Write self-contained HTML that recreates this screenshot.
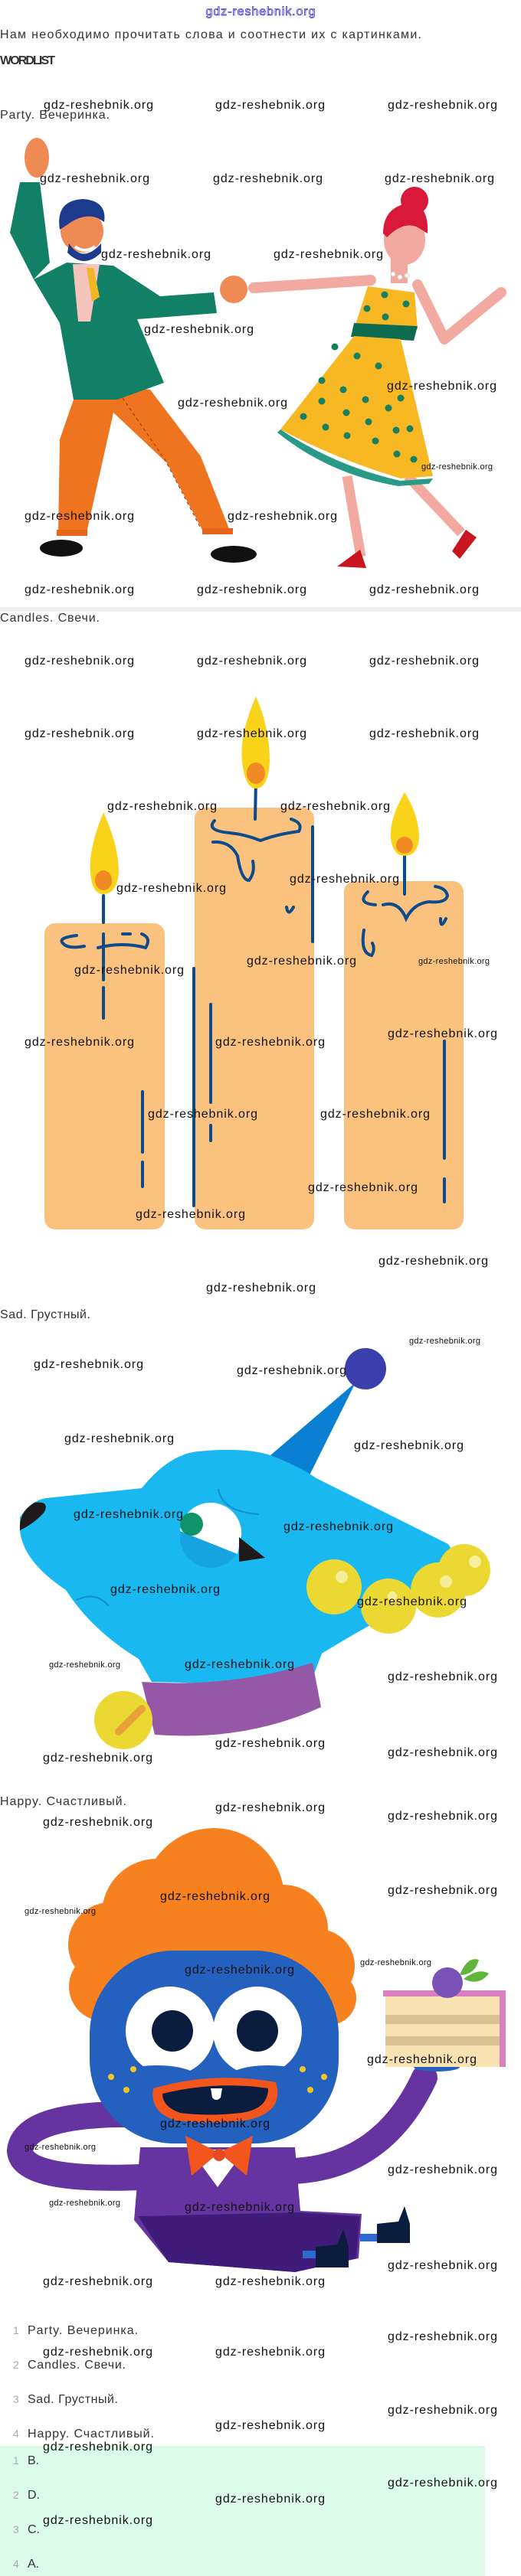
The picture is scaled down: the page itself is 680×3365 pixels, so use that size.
<!DOCTYPE html>
<html><head><meta charset="utf-8"><style>
html,body{margin:0;padding:0;background:#fff;}
svg{display:block}
.w{font-family:"Liberation Sans",sans-serif;font-size:16px;fill:#111;}
.ws{font-family:"Liberation Sans",sans-serif;font-size:11px;fill:#111;}
.t{font-family:"Liberation Sans","Noto Sans CJK SC",sans-serif;font-size:16px;fill:#333;}
.n{font-family:"Liberation Sans",sans-serif;font-size:14px;fill:#aaa;}
</style></head><body>
<svg width="680" height="3365" viewBox="0 0 680 3365" xmlns="http://www.w3.org/2000/svg">
<rect width="680" height="3365" fill="#fff"/>
<!-- header -->
<text x="340" y="20" text-anchor="middle" font-family="Liberation Sans,sans-serif" font-size="16" fill="#fff" stroke="#3a3acc" stroke-width="0.8" textLength="143">gdz-reshebnik.org</text>
<text class="t" x="0" y="50" textLength="550">Нам необходимо прочитать слова и соотнести их с картинками.</text>
<text x="0" y="84" font-family="Liberation Sans,sans-serif" font-weight="bold" font-size="16" fill="#333" textLength="72">WORDLIST</text>
<text class="t" x="0" y="155" textLength="143">Party. Вечеринка.</text>

<!-- PARTY -->
<g>
<!-- man pants -->
<polygon points="96,522 153,504 196,509 262,596 301,696 266,696 218,605 148,539 113,696 76,696 78,574" fill="#ef7420"/>
<rect x="74" y="692" width="40" height="8" fill="#e8641a"/><rect x="264" y="690" width="40" height="8" fill="#e8641a"/>
<path d="M160,520 L215,600 L262,690" stroke="#8a3d10" stroke-dasharray="4 4" fill="none"/>
<ellipse cx="80" cy="716" rx="28" ry="11" fill="#111"/><ellipse cx="305" cy="724" rx="30" ry="11" fill="#111"/>
<!-- man jacket -->
<polygon points="26,238 52,238 65,343 44,365 13,304" fill="#128066"/>
<ellipse cx="48" cy="206" rx="16" ry="26" fill="#ef8a55"/>
<polygon points="44,365 87,343 148,347 209,387 279,382 283,409 179,417 214,500 153,522 96,522 78,422" fill="#128066"/>
<polygon points="95,345 130,345 118,420 102,420" fill="#f4c4bd"/>
<polygon points="113,350 122,350 130,388 120,394" fill="#f1b526"/>
<circle cx="305" cy="378" r="18" fill="#ef8a55"/>
<circle cx="107" cy="302" r="28" fill="#ef8a55"/>
<path d="M78,300 Q72,262 108,260 Q140,262 136,290 L128,285 Q110,278 90,292 Z" fill="#1d3b8c"/>
<path d="M90,318 Q108,345 132,318 L132,330 Q110,352 88,330 Z" fill="#1d3b8c"/>
<path d="M98,322 Q110,332 124,322" stroke="#fff" stroke-width="4" fill="none"/>
<!-- woman -->
<path d="M331,376 L484,366" stroke="#f2aaa0" stroke-width="14" stroke-linecap="round"/>
<path d="M545,372 L580,443 L654,382" stroke="#f2aaa0" stroke-width="14" fill="none" stroke-linecap="round" stroke-linejoin="round"/>
<path d="M453,622 L471,727" stroke="#f2aaa0" stroke-width="13"/>
<path d="M532,622 L602,696" stroke="#f2aaa0" stroke-width="13"/>
<path d="M440,740 L470,718 L478,742 Z" fill="#c9151f"/><path d="M590,720 L608,692 L622,702 L600,730 Z" fill="#c9151f"/>
<rect x="510" y="330" width="22" height="40" fill="#f2aaa0"/>
<ellipse cx="528" cy="313" rx="27" ry="33" fill="#f2aaa0"/>
<path d="M500,305 Q500,270 535,265 Q560,268 558,305 L550,300 Q530,285 505,310 Z" fill="#d8193a"/>
<circle cx="541" cy="262" r="18" fill="#d8193a"/>
<polygon points="480,374 541,382 545,430 462,430" fill="#f7b824"/>
<polygon points="462,422 545,426 540,445 458,440" fill="#0d6b50"/>
<path d="M462,439 L523,443 L565,622 L523,625 Q440,600 366,561 Z" fill="#f7b824"/>
<path d="M366,561 Q440,610 523,628 L565,625 L560,632 L520,635 Q430,620 362,565 Z" fill="#2a9a88"/>
<g fill="#168060">
<circle cx="502" cy="385" r="4.5"/><circle cx="530" cy="397" r="4.5"/><circle cx="479" cy="403" r="4.5"/><circle cx="503" cy="414" r="4.5"/>
<circle cx="437" cy="453" r="4.5"/><circle cx="466" cy="465" r="4.5"/><circle cx="494" cy="478" r="4.5"/><circle cx="420" cy="497" r="4.5"/>
<circle cx="448" cy="509" r="4.5"/><circle cx="477" cy="522" r="4.5"/><circle cx="507" cy="533" r="4.5"/><circle cx="420" cy="524" r="4.5"/>
<circle cx="452" cy="539" r="4.5"/><circle cx="481" cy="551" r="4.5"/><circle cx="517" cy="562" r="4.5"/><circle cx="396" cy="544" r="4.5"/>
<circle cx="425" cy="558" r="4.5"/><circle cx="453" cy="569" r="4.5"/><circle cx="490" cy="576" r="4.5"/><circle cx="518" cy="593" r="4.5"/>
<circle cx="540" cy="600" r="4.5"/><circle cx="535" cy="560" r="4.5"/><circle cx="523" cy="520" r="4.5"/>
</g>
<circle cx="513" cy="358" r="3" fill="#fff" stroke="#ccc"/><circle cx="522" cy="362" r="3" fill="#fff" stroke="#ccc"/><circle cx="531" cy="360" r="3" fill="#fff" stroke="#ccc"/>
</g>
<rect x="0" y="793" width="680" height="6" fill="#eee"/>
<text class="t" x="0" y="812" textLength="130" fill="#444">Candles. Свечи.</text>

<!-- CANDLES -->
<g>
<rect x="58" y="1206" width="157" height="400" rx="14" fill="#fbc27f"/>
<rect x="254" y="1055" width="156" height="551" rx="14" fill="#fbc27f"/>
<rect x="449" y="1151" width="156" height="455" rx="14" fill="#fbc27f"/>
<g stroke="#0d4b8a" stroke-width="4" fill="none" stroke-linecap="round">
<path d="M135,1220 L135,1280 M135,1290 L135,1330 M186,1426 L186,1505 M186,1518 L186,1550"/>
<path d="M100,1222 Q75,1225 82,1232 Q88,1240 110,1236 M128,1238 Q160,1230 190,1238 Q198,1225 185,1220 M160,1220 L170,1220"/>
<path d="M253,1265 L253,1575 M275,1312 L275,1440 M275,1470 L275,1490 M408,1080 L408,1230"/>
<path d="M280,1072 Q268,1085 300,1088 Q320,1090 340,1098 Q360,1090 390,1086 Q396,1075 380,1070 M278,1100 Q300,1098 310,1118 Q315,1150 325,1150 Q333,1140 330,1125 M374,1185 Q376,1198 383,1185"/>
<path d="M480,1165 Q465,1180 490,1182 M500,1182 Q520,1176 530,1200 Q540,1180 560,1178 Q582,1180 584,1170 Q582,1160 568,1158 M575,1200 Q575,1215 582,1200 M475,1215 Q470,1245 485,1248 Q490,1240 486,1232"/>
<path d="M580,1360 L580,1513 M580,1540 L580,1570"/>
<path d="M135,1170 L135,1205 M334,1020 L333,1070 M528,1110 L528,1168"/>
</g>
<g>
<path d="M135,1061 Q115,1110 118,1140 Q120,1168 135,1168 Q152,1168 155,1140 Q155,1105 135,1061 Z" fill="#f9d21a"/>
<ellipse cx="135" cy="1150" rx="11" ry="13" fill="#f08a25"/>
<path d="M334,910 Q312,960 316,995 Q320,1030 334,1030 Q350,1030 352,995 Q352,950 334,910 Z" fill="#f9d21a"/>
<ellipse cx="334" cy="1010" rx="12" ry="14" fill="#f08a25"/>
<path d="M528,1035 Q508,1070 510,1095 Q513,1118 528,1118 Q545,1118 547,1095 Q547,1065 528,1035 Z" fill="#f9d21a"/>
<ellipse cx="528" cy="1104" rx="11" ry="11" fill="#f08a25"/>
</g>
</g>
<text class="t" x="0" y="1722" textLength="118">Sad. Грустный.</text>

<!-- DOG -->
<g>
<polygon points="353,1901 404,1927 464,1806" fill="#0a7fd3"/>
<circle cx="477" cy="1788" r="27" fill="#3b3fad"/>
<path d="M26,1982 Q40,1960 60,1957 L185,1944 Q220,1900 258,1896 Q320,1890 353,1901 Q390,1915 413,1931 L585,2017 Q600,2040 593,2068 Q500,2110 420,2160 L404,2202 L198,2197 L181,2167 Q120,2130 86,2077 Q30,2040 26,1999 Z" fill="#1ab8f0"/>
<path d="M26,1999 Q24,1975 45,1963 Q65,1960 58,1975 Q45,1990 26,1999 Z" fill="#1f1a1a"/>
<circle cx="275" cy="2008" r="40" fill="#16a4e0"/>
<path d="M235,2000 A40,40 0 0 1 315,2006 L310,2030 Z" fill="#fff"/>
<circle cx="250" cy="1991" r="15" fill="#0e9468"/>
<polygon points="312,2008 346,2035 312,2040" fill="#1f1a1a"/>
<path d="M285,1945 Q290,1975 338,1978" stroke="#0f8fc8" stroke-width="2" fill="none"/>
<path d="M100,2090 Q125,2078 142,2098" stroke="#0f8fc8" stroke-width="2" fill="none"/>
<path d="M185,2197 Q300,2205 408,2172 L419,2230 Q320,2275 202,2266 Z" fill="#9558a7"/>
<circle cx="161" cy="2247" r="38" fill="#ecd832"/>
<path d="M155,2262 L185,2232" stroke="#e9a13a" stroke-width="10" stroke-linecap="round"/>
<circle cx="606" cy="2051" r="34" fill="#ecd832"/><circle cx="572" cy="2077" r="36" fill="#ecd832"/>
<circle cx="436" cy="2073" r="36" fill="#ecd832"/><circle cx="507" cy="2098" r="36" fill="#ecd832"/>
<g fill="#f5ef9a"><circle cx="446" cy="2060" r="8"/><circle cx="582" cy="2066" r="8"/><circle cx="620" cy="2040" r="8"/><circle cx="512" cy="2085" r="6"/></g>
</g>
<text class="t" x="0" y="2358" textLength="165">Happy. Счастливый.</text>

<!-- HAPPY MONSTER -->
<g>
<g fill="#f7801f">
<circle cx="279" cy="2480" r="92"/><circle cx="205" cy="2500" r="72"/><circle cx="144" cy="2540" r="55"/>
<circle cx="370" cy="2520" r="58"/><circle cx="415" cy="2568" r="48"/><circle cx="135" cy="2595" r="45"/>
<circle cx="430" cy="2610" r="35"/><rect x="120" y="2520" width="300" height="120"/>
</g>
<path d="M178,2762 Q30,2760 26,2810 Q30,2850 183,2844" stroke="#6634a0" stroke-width="34" fill="none"/>
<path d="M384,2836 Q500,2830 554,2714" stroke="#6634a0" stroke-width="34" fill="none" stroke-linecap="round"/>
<rect x="117" y="2548" width="325" height="252" rx="110" fill="#2461bf"/>
<circle cx="222" cy="2653" r="58" fill="#fff"/><circle cx="336" cy="2653" r="58" fill="#fff"/>
<ellipse cx="205" cy="2720" rx="60" ry="22" fill="#2461bf"/><ellipse cx="350" cy="2720" rx="60" ry="22" fill="#2461bf"/>
<circle cx="225" cy="2653" r="27" fill="#0b1d3e"/><circle cx="336" cy="2653" r="27" fill="#0b1d3e"/>
<path d="M200,2728 Q280,2705 360,2720 Q372,2760 320,2770 Q270,2775 230,2770 Q195,2760 200,2728 Z" fill="#f2561d"/>
<path d="M212,2735 Q280,2718 350,2728 Q350,2755 315,2760 Q270,2765 235,2760 Q212,2752 212,2735 Z" fill="#0b1d3e"/>
<path d="M275,2728 L290,2728 L288,2740 Q282,2746 277,2740 Z" fill="#fff"/>
<g fill="#f3c623"><circle cx="145" cy="2713" r="4"/><circle cx="174" cy="2703" r="4"/><circle cx="165" cy="2730" r="4"/>
<circle cx="395" cy="2703" r="4"/><circle cx="423" cy="2713" r="4"/><circle cx="405" cy="2730" r="4"/></g>
<path d="M183,2805 L385,2805 L392,2888 L472,2892 L468,2950 L385,2968 L220,2955 L175,2900 Z" fill="#6634a0"/>
<path d="M180,2895 L390,2890 L470,2895 L465,2950 L385,2968 L220,2955 Z" fill="#3f1c7a"/>
<polygon points="248,2808 320,2808 284,2857" fill="#fff"/>
<path d="M286,2812 L242,2790 L250,2842 Z M286,2812 L330,2790 L322,2842 Z" fill="#f2561d"/>
<circle cx="286" cy="2815" r="8" fill="#e54a20"/>
<rect x="470" y="2918" width="30" height="10" fill="#2d6bd0"/><rect x="395" y="2940" width="20" height="10" fill="#2d6bd0"/>
<path d="M492,2905 L520,2902 L528,2882 L535,2905 L535,2930 L492,2930 Z" fill="#0b1d3e"/>
<path d="M412,2935 L440,2932 L448,2912 L455,2935 L455,2962 L412,2962 Z" fill="#0b1d3e"/>
<!-- cake -->
<ellipse cx="570" cy="2700" rx="30" ry="6" fill="#2461bf"/>
<rect x="503" y="2602" width="157" height="98" fill="#f8e2b1"/>
<rect x="503" y="2632" width="150" height="12" fill="#d8c28f"/><rect x="503" y="2660" width="150" height="12" fill="#d8c28f"/>
<rect x="500" y="2600" width="160" height="8" fill="#d880c0"/><rect x="652" y="2600" width="8" height="100" fill="#d880c0"/>
<circle cx="584" cy="2590" r="20" fill="#7b52b5"/>
<path d="M600,2580 Q610,2555 625,2560 Q620,2580 600,2580 Z M605,2585 Q625,2570 638,2578 Q625,2595 605,2585 Z" fill="#5fb63a"/>
</g>

<!-- list -->
<g>
<text class="n" x="17" y="3049">1</text><text class="t" x="36" y="3049" textLength="144">Party. Вечеринка.</text>
<text class="n" x="17" y="3094">2</text><text class="t" x="36" y="3094" textLength="128">Candles. Свечи.</text>
<text class="n" x="17" y="3139">3</text><text class="t" x="36" y="3139" textLength="118">Sad. Грустный.</text>
<text class="n" x="17" y="3184">4</text><text class="t" x="36" y="3184" textLength="165">Happy. Счастливый.</text>
<rect x="0" y="3195" width="633" height="170" fill="#dcfce9"/>
<text class="n" x="17" y="3219">1</text><text class="t" x="36" y="3219">B.</text>
<text class="n" x="17" y="3264">2</text><text class="t" x="36" y="3264">D.</text>
<text class="n" x="17" y="3309">3</text><text class="t" x="36" y="3309">C.</text>
<text class="n" x="17" y="3354">4</text><text class="t" x="36" y="3354">A.</text>
</g>

<!-- watermarks -->
<g class="w">
<text x="57" y="142" textLength="143">gdz-reshebnik.org</text><text x="281" y="142" textLength="143">gdz-reshebnik.org</text><text x="506" y="142" textLength="143">gdz-reshebnik.org</text>
<text x="52" y="238" textLength="143">gdz-reshebnik.org</text><text x="278" y="238" textLength="143">gdz-reshebnik.org</text><text x="502" y="238" textLength="143">gdz-reshebnik.org</text>
<text x="132" y="337" textLength="143">gdz-reshebnik.org</text><text x="357" y="337" textLength="143">gdz-reshebnik.org</text>
<text x="188" y="435" textLength="143">gdz-reshebnik.org</text><text x="505" y="509" textLength="143">gdz-reshebnik.org</text>
<text x="232" y="531" textLength="143">gdz-reshebnik.org</text>
<text x="32" y="679" textLength="143">gdz-reshebnik.org</text><text x="297" y="679" textLength="143">gdz-reshebnik.org</text>
<text x="32" y="775" textLength="143">gdz-reshebnik.org</text><text x="257" y="775" textLength="143">gdz-reshebnik.org</text><text x="482" y="775" textLength="143">gdz-reshebnik.org</text>
<text x="32" y="868" textLength="143">gdz-reshebnik.org</text><text x="257" y="868" textLength="143">gdz-reshebnik.org</text><text x="482" y="868" textLength="143">gdz-reshebnik.org</text>
<text x="32" y="963" textLength="143">gdz-reshebnik.org</text><text x="257" y="963" textLength="143">gdz-reshebnik.org</text><text x="482" y="963" textLength="143">gdz-reshebnik.org</text>
<text x="140" y="1058" textLength="143">gdz-reshebnik.org</text><text x="366" y="1058" textLength="143">gdz-reshebnik.org</text>
<text x="378" y="1153" textLength="143">gdz-reshebnik.org</text><text x="152" y="1165" textLength="143">gdz-reshebnik.org</text>
<text x="322" y="1260" textLength="143">gdz-reshebnik.org</text><text x="97" y="1272" textLength="143">gdz-reshebnik.org</text>
<text x="506" y="1355" textLength="143">gdz-reshebnik.org</text>
<text x="32" y="1366" textLength="143">gdz-reshebnik.org</text><text x="281" y="1366" textLength="143">gdz-reshebnik.org</text>
<text x="193" y="1460" textLength="143">gdz-reshebnik.org</text><text x="418" y="1460" textLength="143">gdz-reshebnik.org</text>
<text x="402" y="1556" textLength="143">gdz-reshebnik.org</text><text x="177" y="1591" textLength="143">gdz-reshebnik.org</text>
<text x="494" y="1652" textLength="143">gdz-reshebnik.org</text><text x="269" y="1687" textLength="143">gdz-reshebnik.org</text>
<text x="44" y="1787" textLength="143">gdz-reshebnik.org</text><text x="309" y="1795" textLength="143">gdz-reshebnik.org</text>
<text x="84" y="1884" textLength="143">gdz-reshebnik.org</text><text x="462" y="1893" textLength="143">gdz-reshebnik.org</text>
<text x="96" y="1983" textLength="143">gdz-reshebnik.org</text><text x="370" y="1999" textLength="143">gdz-reshebnik.org</text>
<text x="144" y="2081" textLength="143">gdz-reshebnik.org</text><text x="466" y="2097" textLength="143">gdz-reshebnik.org</text>
<text x="241" y="2179" textLength="143">gdz-reshebnik.org</text><text x="506" y="2195" textLength="143">gdz-reshebnik.org</text>
<text x="281" y="2282" textLength="143">gdz-reshebnik.org</text><text x="506" y="2294" textLength="143">gdz-reshebnik.org</text><text x="56" y="2301" textLength="143">gdz-reshebnik.org</text>
<text x="281" y="2366" textLength="143">gdz-reshebnik.org</text><text x="506" y="2377" textLength="143">gdz-reshebnik.org</text><text x="56" y="2385" textLength="143">gdz-reshebnik.org</text>
<text x="506" y="2474" textLength="143">gdz-reshebnik.org</text><text x="209" y="2482" textLength="143">gdz-reshebnik.org</text>
<text x="241" y="2578" textLength="143">gdz-reshebnik.org</text><text x="479" y="2695" textLength="143">gdz-reshebnik.org</text>
<text x="209" y="2779" textLength="143">gdz-reshebnik.org</text><text x="506" y="2839" textLength="143">gdz-reshebnik.org</text>
<text x="241" y="2888" textLength="143">gdz-reshebnik.org</text><text x="506" y="2964" textLength="143">gdz-reshebnik.org</text>
<text x="56" y="2985" textLength="143">gdz-reshebnik.org</text><text x="281" y="2985" textLength="143">gdz-reshebnik.org</text>
<text x="506" y="3057" textLength="143">gdz-reshebnik.org</text><text x="56" y="3077" textLength="143">gdz-reshebnik.org</text><text x="281" y="3077" textLength="143">gdz-reshebnik.org</text>
<text x="506" y="3153" textLength="143">gdz-reshebnik.org</text><text x="281" y="3173" textLength="143">gdz-reshebnik.org</text><text x="56" y="3201" textLength="143">gdz-reshebnik.org</text>
<text x="506" y="3248" textLength="143">gdz-reshebnik.org</text><text x="281" y="3269" textLength="143">gdz-reshebnik.org</text><text x="56" y="3297" textLength="143">gdz-reshebnik.org</text>
</g>
<g class="ws">
<text x="550" y="613" textLength="93">gdz-reshebnik.org</text>
<text x="546" y="1259" textLength="93">gdz-reshebnik.org</text>
<text x="534" y="1755" textLength="93">gdz-reshebnik.org</text>
<text x="64" y="2178" textLength="93">gdz-reshebnik.org</text>
<text x="32" y="2500" textLength="93">gdz-reshebnik.org</text>
<text x="470" y="2567" textLength="93">gdz-reshebnik.org</text>
<text x="32" y="2808" textLength="93">gdz-reshebnik.org</text>
<text x="64" y="2881" textLength="93">gdz-reshebnik.org</text>
</g>
</svg>
</body></html>
